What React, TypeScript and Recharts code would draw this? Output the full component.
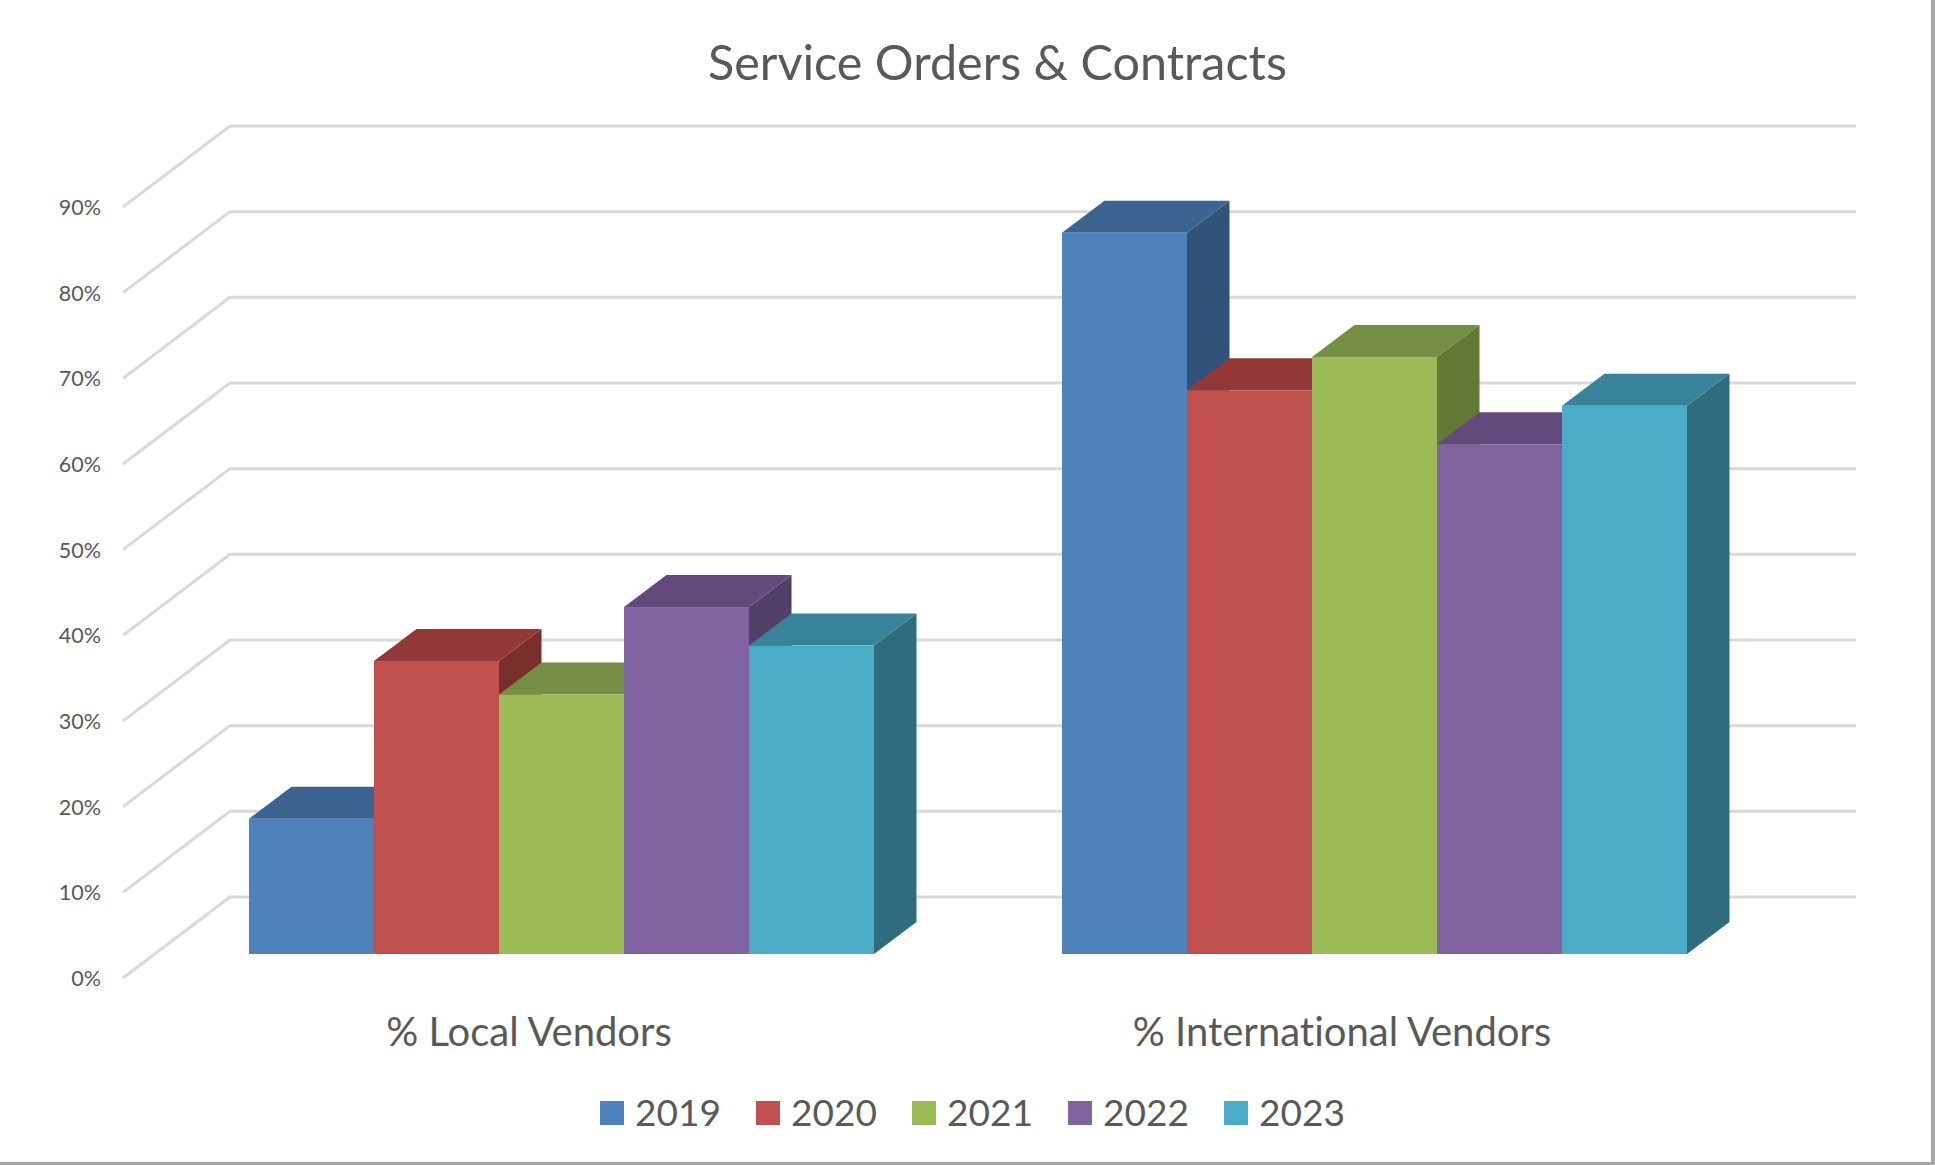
import React from 'react';
import { BarChart, Bar, XAxis, YAxis, CartesianGrid, Legend } from 'recharts';

const categories = ['% Local Vendors', '% International Vendors'];
const years = ['2019', '2020', '2021', '2022', '2023'];
const values2019 = [0.158, 0.842];
const values2020 = [0.342, 0.658];
const values2021 = [0.303, 0.697];
const values2022 = [0.405, 0.595];
const values2023 = [0.36, 0.64];
const seriesValues = [values2019, values2020, values2021, values2022, values2023];
const yTicks = [0, 0.1, 0.2, 0.3, 0.4, 0.5, 0.6, 0.7, 0.8, 0.9];

const frontColors = ['#4F81BD', '#C0504D', '#9BBB59', '#8064A2', '#4BACC6'];
const topColors = ['#3D6391', '#923937', '#768E44', '#624B7C', '#38839A'];
const sideColors = ['#31527A', '#7A2E2C', '#647836', '#523F69', '#2F6C7E'];

const rows = categories.map((name, i) => {
  const row: Record<string, string | number> = { name };
  years.forEach((y, s) => {
    row[y] = seriesValues[s][i];
  });
  return row;
});

const FONT = 'Lato, sans-serif';
const TEXT = '#595959';
const DEPTH_X = 42.5;
const DEPTH_Y = 32;

function bar3d(s: number) {
  return (p: any) => {
    const { x, y, width, height } = p;
    const r = x + width;
    const b = y + height;
    return (
      <g>
        <polygon points={`${r},${y} ${r + DEPTH_X},${y - DEPTH_Y} ${r + DEPTH_X},${b - DEPTH_Y} ${r},${b}`} fill={sideColors[s]} />
        <polygon points={`${x},${y} ${x + DEPTH_X},${y - DEPTH_Y} ${r + DEPTH_X},${y - DEPTH_Y} ${r},${y}`} fill={topColors[s]} />
        <rect x={x} y={y} width={width} height={height} fill={frontColors[s]} />
      </g>
    );
  };
}

const gridLine = (p: any) => {
  const y = p.y1;
  return (
    <polyline
      key={p.key ?? y}
      points={`123,${y + 24} 230,${y - 57} 1856,${y - 57}`}
      fill="none"
      stroke="#D9D9D9"
      strokeWidth={3}
    />
  );
};

const YTick = (p: any) => (
  <text x={101} y={p.y + 24} textAnchor="end" dominantBaseline="central" fontFamily={FONT} fontSize={21.5} fill={TEXT}>
    {`${Math.round(p.payload.value * 100)}%`}
  </text>
);

const XTick = (p: any) => (
  <text
    x={p.x - 33}
    y={1031}
    textAnchor="middle"
    dominantBaseline="central"
    fontFamily={FONT}
    fontSize={40}
    fill={TEXT}
    style={{ fontVariantLigatures: 'none' }}
  >
    {p.payload.value}
  </text>
);

const LegendContent = (p: any) => (
  <div style={{ display: 'flex' }}>
    {(p.payload ?? []).map((e: any) => (
      <div key={e.value} style={{ width: 156, display: 'flex', alignItems: 'center', flex: 'none' }}>
        <svg width={24} height={24} style={{ flex: 'none' }}>
          <rect width={24} height={24} fill={e.color} />
        </svg>
        <span style={{ marginLeft: 11, fontFamily: FONT, fontSize: 37, color: TEXT, lineHeight: '36px', position: 'relative', top: -1 }}>{e.value}</span>
      </div>
    ))}
  </div>
);

export default function App() {
  return (
    <div
      style={{
        position: 'absolute',
        left: 0,
        top: 0,
        width: 1935,
        height: 1165,
        background: '#FFFFFF',
        overflow: 'hidden',
      }}
    >
      <BarChart
        width={1935}
        height={1165}
        data={rows}
        margin={{ top: 183, right: 153.5, bottom: 0, left: 0 }}
        barGap={0}
        barCategoryGap={93.5}
      >
        <CartesianGrid vertical={false} horizontal={gridLine} />
        <XAxis dataKey="name" height={211} axisLine={false} tickLine={false} tick={XTick} interval={0} />
        <YAxis width={155.5} domain={[0, 0.9]} ticks={yTicks} axisLine={false} tickLine={false} tick={YTick} interval={0} />
        <Legend
          layout="horizontal"
          verticalAlign="middle"
          align="center"
          content={LegendContent}
          wrapperStyle={{ position: 'absolute', left: 600, top: 1095, width: 800, height: 36 }}
        />
        {years.map((y, s) => (
          <Bar key={y} dataKey={y} fill={frontColors[s]} shape={bar3d(s)} isAnimationActive={false} />
        ))}
        <text
          x={997.5}
          y={61}
          textAnchor="middle"
          dominantBaseline="central"
          fontFamily={FONT}
          fontSize={48.5}
          fill={TEXT}
          style={{ fontVariantLigatures: 'none' }}
        >
          Service Orders &amp; Contracts
        </text>
      </BarChart>
      <div style={{ position: 'absolute', right: 0, top: 0, width: 4, height: 1165, background: '#A6A6A6' }} />
      <div style={{ position: 'absolute', left: 0, bottom: 0, width: 1935, height: 3, background: '#A6A6A6' }} />
    </div>
  );
}
